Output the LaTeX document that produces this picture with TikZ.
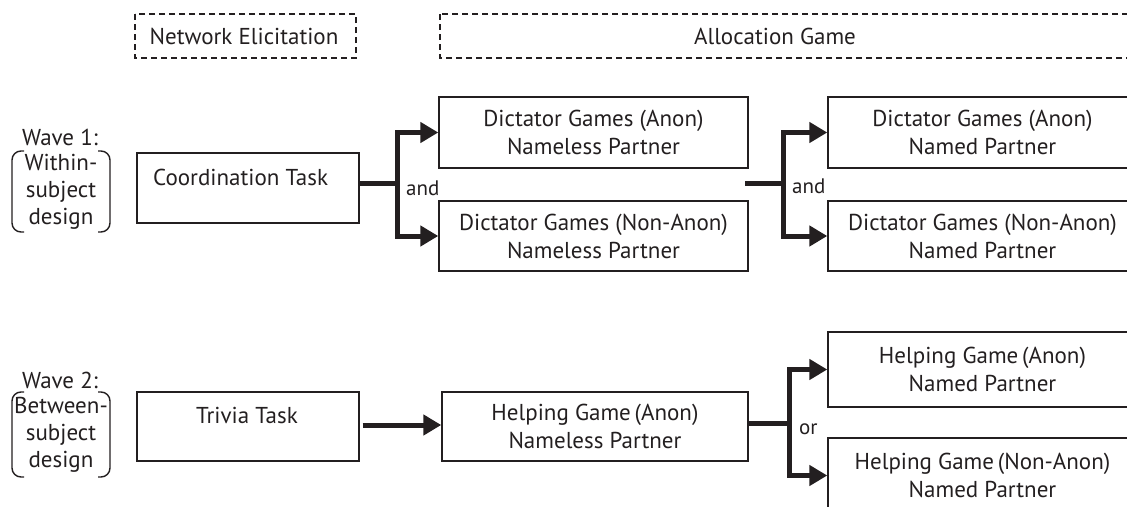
\documentclass[tikz,border=0pt]{standalone}
\usepackage{fontspec}
\setmainfont{PT Sans}
\usetikzlibrary{arrows.meta,calc}
\definecolor{ink}{RGB}{35,31,32}
\tikzset{
  box/.style={draw=ink, line width=1.4pt, rectangle, inner sep=0pt, text=ink,
    align=center, font=\fontsize{23}{28}\selectfont},
  dbox/.style={draw=ink, line width=1.3pt, dash pattern=on 6pt off 4pt, rectangle, inner sep=0pt},
  txt/.style={text=ink, inner sep=0pt, font=\fontsize{23}{27}\selectfont, align=center},
  small/.style={text=ink, inner sep=0pt, font=\fontsize{21}{27}\selectfont},
  fork/.style={draw=ink, line width=5pt, -{Triangle[length=18pt,width=20pt]}},
  stem/.style={draw=ink, line width=5pt},
  brk/.style={draw=ink, line width=1.4pt, rounded corners=9pt},
}
\begin{document}
\begin{tikzpicture}[x=1pt,y=-1pt]
\useasboundingbox (0,0) rectangle (1127,506);
\clip (0,0) rectangle (1127,506);
% header boxes
\draw[dbox] (135,14) rectangle (356,58);
\node[txt] (ne) at (244,36) {Network Elicitation};
\draw[dbox] (440,14) rectangle (1145,58);
\node[txt] (ag) at (775,36) {Allocation Game};
% wave 1
\node[txt] (w1) at (60,137) {Wave 1:};
\draw[brk] (24,151) -- (12,151) -- (12,232) -- (24,232);
\draw[brk] (98,151) -- (110,151) -- (110,232) -- (98,232);
\node[txt] (w1d) at (61,192) {Within-\\subject\\design};
\node[box, minimum width=222pt, minimum height=70pt] (coord) at (248,188) {};
\node[txt, anchor=west] (coordt) at (153,177) {Coordination Task};
\node[box, minimum width=309pt, minimum height=71pt] (d1) at (593.5,132.5) {Dictator Games (Anon)\\Nameless Partner};
\node[box, minimum width=309pt, minimum height=70pt] (d2) at (593.5,236) {Dictator Games (Non-Anon)\\Nameless Partner};
\node[box, minimum width=309pt, minimum height=71pt] (d3) at (982.5,132.5) {Dictator Games (Anon)\\Named Partner};
\node[box, minimum width=309pt, minimum height=70pt] (d4) at (982.5,236) {Dictator Games (Non-Anon)\\Named Partner};
% fork 1
\coordinate (f1) at (397,183);
\draw[stem] (coord.east |- f1) -- (f1);
\draw[fork] ($(f1)+(0,2.5)$) |- (d1.west);
\draw[fork] ($(f1)-(0,2.5)$) |- (d2.west);
\node[small, anchor=west] (and1) at (406,188) {and};
% fork 2
\coordinate (s2) at (745,183);
\coordinate (f2) at (783,183);
\draw[stem] (s2) -- (f2);
\draw[fork] ($(f2)+(0,2.5)$) |- (d3.west);
\draw[fork] ($(f2)-(0,2.5)$) |- (d4.west);
\node[small, anchor=west] (and2) at (792,186) {and};
% wave 2
\node[txt] (w2) at (60,380) {Wave 2:};
\draw[brk] (24,392) -- (12,392) -- (12,477) -- (24,477);
\draw[brk] (98,392) -- (110,392) -- (110,477) -- (98,477);
\node[txt] (w2d) at (61,435) {Between-\\subject\\design};
\node[box, minimum width=222pt, minimum height=69pt] (triv) at (248,426.5) {};
\node[txt] (trivt) at (247,415) {Trivia Task};
\node[box, minimum width=306pt, minimum height=69pt] (h1) at (595,426.5) {Helping Game\,(Anon)\\Nameless Partner};
\node[box, minimum width=309pt, minimum height=75pt] (h2) at (982.5,369.5) {Helping Game\,(Anon)\\Named Partner};
\node[box, minimum width=309pt, minimum height=75pt] (h3) at (982.5,475.5) {Helping Game\,(Non-Anon)\\Named Partner};
\draw[fork] ([xshift=3pt]triv.east |- 0,425) -- (h1.west |- 0,425);
% fork 3
\coordinate (f3) at (789,423);
\draw[stem] (h1.east |- f3) -- (f3);
\draw[fork] ($(f3)+(0,2.5)$) |- (h2.west);
\draw[fork] ($(f3)-(0,2.5)$) |- (h3.west);
\node[small, anchor=west] (or) at (799,429) {or};
\end{tikzpicture}
\end{document}
